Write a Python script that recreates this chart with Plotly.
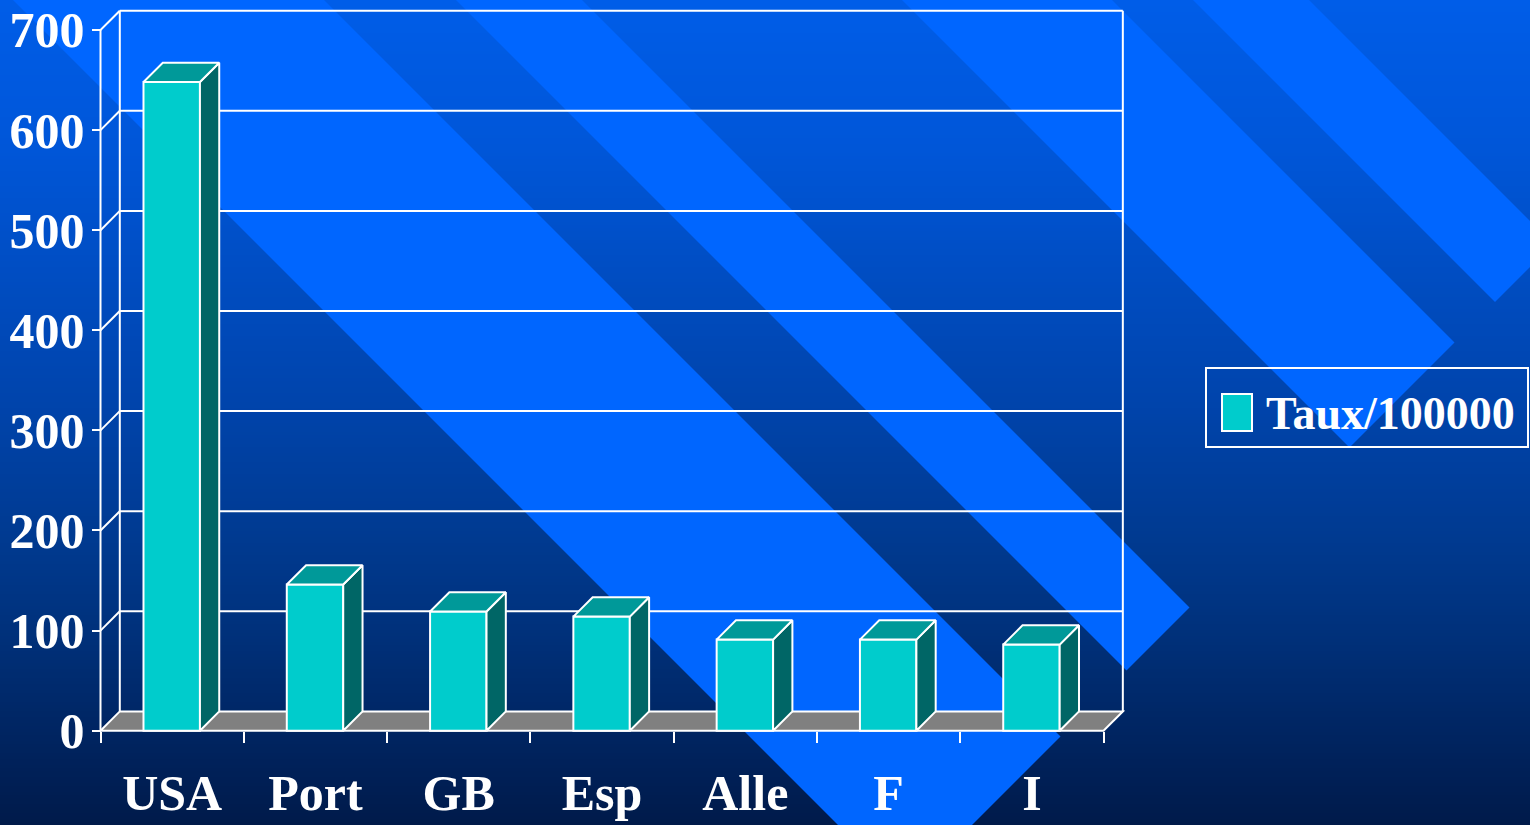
import plotly.graph_objects as go

# ---- data ---------------------------------------------------------------
categories = ["USA", "Port", "GB", "Esp", "Alle", "F", "I"]
taux = [648, 146, 119, 114, 91, 91, 86]
series_name = "Taux/100000"
y_ticks = [0, 100, 200, 300, 400, 500, 600, 700]

# ---- page geometry ----------------------------------------------------------
W, H = 1530, 825
X_LEFT_PX = 100.5          # pixel x of the value axis (category position -0.5)
CAT_PX = 143.29            # pixels per category slot
Y0_PX = 730.7              # pixel y of value 0 on the front plane
UNIT_PX = 700.7 / 700.0    # pixels per value unit
DEPTH_PX = 19.3            # oblique depth of the pseudo-3D box

DX = DEPTH_PX / CAT_PX     # depth offset in category units
DY = DEPTH_PX / UNIT_PX    # depth offset in value units
BAR_OFFSET, BAR_WIDTH = -0.2, 0.394

X_LO, X_HI = -0.53, 6.5 + DX + 0.03
Y_LO, Y_HI = -4.0, 722.0


def px_x(v):
    return X_LEFT_PX + (v + 0.5) * CAT_PX


def px_y(v):
    return Y0_PX - v * UNIT_PX


x_domain = [px_x(X_LO) / W, px_x(X_HI) / W]
y_domain = [1 - px_y(Y_LO) / H, 1 - px_y(Y_HI) / H]

FONT = "Liberation Serif, Times New Roman, serif"
WHITE = "#FFFFFF"

shapes = []

# ---- vertical background gradient (bands) ------------------------------------
stops = [(0, (0, 93, 232)), (150, (0, 86, 216)), (400, (0, 68, 172)),
         (550, (0, 57, 142)), (640, (0, 48, 121)), (730, (0, 37, 98)),
         (825, (0, 26, 74))]


def grad(py):
    for (p0, c0), (p1, c1) in zip(stops[:-1], stops[1:]):
        if p0 <= py <= p1:
            t = (py - p0) / (p1 - p0)
            return tuple(round(a + (b - a) * t) for a, b in zip(c0, c1))
    return stops[-1][1]


band = 3
for top in range(0, H, band):
    r, g, b = grad(top + band / 2)
    shapes.append(dict(type="rect", xref="paper", yref="paper", layer="below",
                       x0=0, x1=1, y0=1 - (top + band + 0.6) / H, y1=1 - top / H,
                       fillcolor=f"rgb({r},{g},{b})", line=dict(width=0)))

# ---- diagonal light stripes (45 deg, square-cut at x+y = END) ----------------
END = 1797
stripes = [(-13, -324), (-456, -582), (-902, -1112), (-1193, -1309)]
for c1, c2 in stripes:
    pts = []
    for c, s in [(c1, END), (c2, END), (c2, -1400), (c1, -1400)]:
        x = (s - c) / 2.0
        y = (s + c) / 2.0
        pts.append((x / W, 1 - y / H))
    path = "M " + " L ".join(f"{x:.5f},{y:.5f}" for x, y in pts) + " Z"
    shapes.append(dict(type="path", xref="paper", yref="paper", layer="below",
                       path=path, fillcolor="#0066FF", line=dict(width=0)))

# ---- floor of the box --------------------------------------------------------
xl, xr = -0.5, 6.5
floor = f"M {xl},0 L {xl + DX},{DY} L {xr + DX},{DY} L {xr},0 Z"
shapes.append(dict(type="path", xref="x", yref="y", layer="below", path=floor,
                   fillcolor="#808080", line=dict(color=WHITE, width=2)))


def seg(x0, y0, x1, y1):
    return dict(type="line", xref="x", yref="y", layer="below",
                x0=x0, y0=y0, x1=x1, y1=y1, line=dict(color=WHITE, width=2))


# back wall: verticals, gridlines; side wall connectors; front value axis
shapes.append(seg(xl + DX, DY, xl + DX, y_ticks[-1] + DY))
shapes.append(seg(xr + DX, DY, xr + DX, y_ticks[-1] + DY))
for v in y_ticks[1:]:
    shapes.append(seg(xl + DX, v + DY, xr + DX, v + DY))
    shapes.append(seg(xl, v, xl + DX, v + DY))
shapes.append(seg(xl, 0, xl, y_ticks[-1]))

# ---- legend box ----------------------------------------------------------------
shapes.append(dict(type="rect", xref="paper", yref="paper", layer="above",
                   x0=1206 / W, x1=1528 / W, y0=1 - 447 / H, y1=1 - 368 / H,
                   line=dict(color=WHITE, width=2), fillcolor="rgba(0,0,0,0)"))
shapes.append(dict(type="rect", xref="paper", yref="paper", layer="above",
                   x0=1222 / W, x1=1252 / W, y0=1 - 431 / H, y1=1 - 394 / H,
                   line=dict(color=WHITE, width=2), fillcolor="#00CCCC"))

fig = go.Figure()

# front faces of the columns
fig.add_trace(go.Bar(
    x=list(range(len(categories))), y=taux, width=BAR_WIDTH, offset=BAR_OFFSET,
    marker=dict(color="#00CCCC", line=dict(color=WHITE, width=2)),
    name=series_name, showlegend=False, hoverinfo="skip"))

# top and right faces of the columns
for i, v in enumerate(taux):
    x0 = i + BAR_OFFSET
    x1 = x0 + BAR_WIDTH
    top_x = [x0, x0 + DX, x1 + DX, x1, x0]
    top_y = [v, v + DY, v + DY, v, v]
    side_x = [x1, x1 + DX, x1 + DX, x1, x1]
    side_y = [0, DY, v + DY, v, 0]
    fig.add_trace(go.Scatter(x=side_x, y=side_y, mode="lines", fill="toself",
                             fillcolor="#006666", line=dict(color=WHITE, width=2),
                             showlegend=False, hoverinfo="skip"))
    fig.add_trace(go.Scatter(x=top_x, y=top_y, mode="lines", fill="toself",
                             fillcolor="#009999", line=dict(color=WHITE, width=2),
                             showlegend=False, hoverinfo="skip"))

# carrier trace for the boundary-tick axis
fig.add_trace(go.Scatter(x=[0], y=[0], xaxis="x2", yaxis="y", mode="markers",
                         marker=dict(opacity=0), showlegend=False, hoverinfo="skip"))

axis_font = dict(family=FONT, size=50, color=WHITE, weight="bold")
x_pos = 1 - Y0_PX / H

fig.update_layout(
    template="none",
    width=W, height=H,
    margin=dict(l=0, r=0, t=0, b=0, pad=0, autoexpand=False),
    paper_bgcolor="#002050",
    plot_bgcolor="rgba(0,0,0,0)",
    showlegend=False,
    shapes=shapes,
    xaxis=dict(range=[X_LO, X_HI], domain=x_domain, anchor="free", position=x_pos,
               tickmode="array", tickvals=list(range(len(categories))),
               ticktext=categories, ticks="", showgrid=False, zeroline=False,
               showline=False, tickfont=axis_font, ticklabelstandoff=28,
               automargin=False, fixedrange=True),
    xaxis2=dict(range=[X_LO, X_HI], overlaying="x", anchor="free", position=x_pos,
                tickmode="array", tickvals=[k - 0.5 for k in range(len(categories) + 1)],
                ticks="outside", ticklen=11, tickwidth=2, tickcolor=WHITE,
                showticklabels=False, showgrid=False, zeroline=False, showline=False,
                automargin=False, fixedrange=True),
    yaxis=dict(range=[Y_LO, Y_HI], domain=y_domain, anchor="free",
               position=X_LEFT_PX / W, tickmode="array", tickvals=y_ticks,
               ticks="outside", ticklen=9, tickwidth=2, tickcolor=WHITE,
               showgrid=False, zeroline=False, showline=False,
               tickfont=axis_font, ticklabelstandoff=-3, automargin=False,
               fixedrange=True),
    annotations=[dict(text=series_name, xref="paper", yref="paper",
                      x=1264 / W, y=1 - 413 / H, xanchor="left", yanchor="middle",
                      showarrow=False,
                      font=dict(family=FONT, size=46, color=WHITE, weight="bold"))],
)

fig.write_html("out.html")
